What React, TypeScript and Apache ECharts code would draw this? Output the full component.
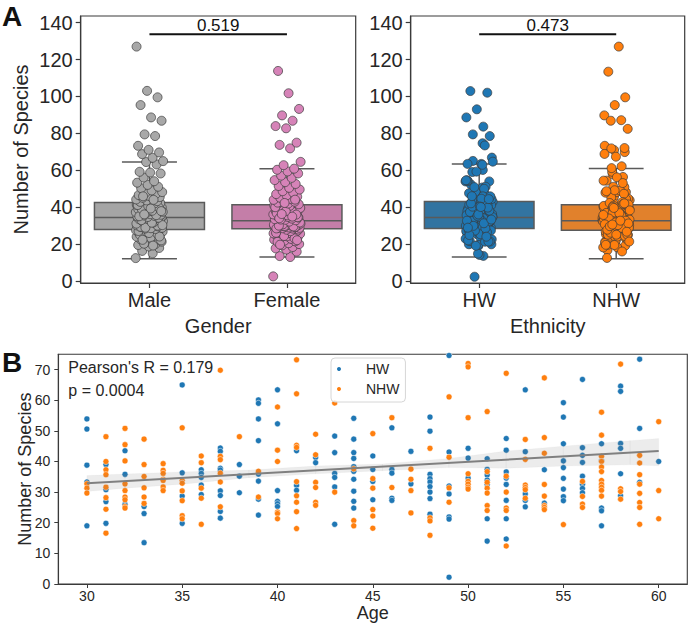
import React, { useEffect, useRef } from "react";
import * as echarts from "echarts";

// ---------- Panel A data ----------
const genderCats = ["Male", "Female"];
const ethnicityCats = ["HW", "NHW"];

// box statistics: [lower whisker, Q1, median, Q3, upper whisker]
const maleBox = [12.0, 27.8, 34.3, 42.5, 64.4];
const femaleBox = [12.9, 28.2, 32.6, 41.2, 60.8];
const hwBox = [12.9, 28.3, 34.3, 43.0, 63.3];
const nhwBox = [12.0, 27.4, 32.6, 41.2, 60.9];

const maleValues = [
  12.3, 14.9, 16.2, 17.8, 18.6, 19.4, 19.8, 20.5, 21.2, 21.6, 22.4, 22.8, 23.1, 23.9, 24.2, 24.6, 25.1, 25.3, 25.8, 26.0,
  26.3, 26.7, 26.9, 27.1, 27.3, 27.6, 27.8, 27.9, 20.1, 21.9, 23.4, 24.8, 25.6, 26.5, 27.4, 19.1, 22.2, 24.0, 25.9, 27.0,
  28.1, 28.3, 28.7, 28.9, 29.1, 29.5, 29.8, 30.0, 30.3, 30.5, 30.9, 31.2, 31.4, 31.7, 31.9, 32.3, 32.5, 32.8, 33.1, 33.3,
  33.6, 33.9, 34.1, 34.3, 28.5, 29.3, 29.9, 30.7, 31.0, 31.6, 32.0, 32.6, 33.0, 33.5, 34.0, 28.8, 30.2, 31.5, 32.9, 34.2,
  34.6, 34.9, 35.2, 35.4, 35.8, 36.1, 36.3, 36.7, 37.0, 37.2, 37.6, 37.9, 38.2, 38.5, 38.8, 39.0, 39.4, 39.7, 40.0, 40.3,
  40.6, 40.9, 41.2, 41.5, 41.8, 42.1, 42.4, 35.0, 35.6, 36.5, 37.4, 38.0, 38.9, 39.8, 40.5, 41.1, 42.0, 36.0, 37.8, 39.2,
  42.8, 43.2, 43.6, 44.1, 44.5, 45.0, 45.4, 46.0, 46.5, 47.0, 47.5, 48.1, 49.0, 50.2, 51.0, 52.0, 53.2, 54.0, 56.0, 58.2,
  58.7, 59.1, 63.1, 64.4, 64.9, 66.7, 68.7, 69.6, 71.0, 73.2, 78.5, 79.4, 86.8, 88.6, 95.3, 99.5, 103.0, 127.0, 43.9, 45.8,
];
const femaleValues = [
  2.4, 12.9, 13.4, 15.8, 16.9, 17.6, 18.3, 19.2, 19.9, 20.4, 20.9, 21.4, 21.8, 22.3, 22.7, 23.2, 23.6, 24.1, 24.5, 24.8,
  25.2, 25.5, 25.9, 26.2, 26.5, 26.8, 27.0, 27.3, 27.5, 27.8, 28.0, 21.1, 23.0, 24.3, 25.7, 26.9, 19.6, 22.0, 27.7, 26.0,
  28.3, 28.5, 28.7, 28.9, 29.0, 29.2, 29.4, 29.6, 29.8, 30.0, 30.1, 30.3, 30.5, 30.7, 30.9, 31.0, 31.2, 31.4, 31.5, 31.7,
  31.9, 32.0, 32.2, 32.4, 32.5, 28.6, 29.1, 29.7, 30.4, 30.8, 31.3, 31.8, 32.3, 28.4, 29.5, 30.6, 31.6, 32.1, 29.9,
  32.8, 33.1, 33.4, 33.7, 34.0, 34.3, 34.6, 35.0, 35.3, 35.7, 36.0, 36.4, 36.8, 37.1, 37.5, 37.9, 38.2, 38.6, 39.0, 39.3,
  39.7, 40.0, 40.4, 40.8, 41.1, 33.2, 34.5, 35.5, 36.6, 37.3, 38.0, 39.5, 40.6, 33.9, 35.9, 37.7, 39.9, 34.8, 36.2,
  41.5, 41.9, 42.4, 42.9, 43.4, 43.9, 44.4, 45.0, 45.6, 46.3, 47.0, 47.8, 48.6, 49.5, 50.4, 51.4, 52.5, 53.5, 54.6, 55.8,
  57.0, 58.2, 59.3, 60.2, 60.8, 62.7, 64.5, 71.8, 73.7, 74.9, 82.7, 83.9, 86.8, 89.7, 93.2, 101.7, 113.8, 44.0, 42.2,
];

// values above the panel-B y limit (shown only in panel A)
const hwHigh = [102.9, 102.0, 93.0, 88.6, 83.6, 79.4, 78.5];
const nhwHigh = [127.0, 113.4, 99.5, 95.3, 89.7, 87.1, 86.8, 82.4];

const genderP = "0.519";
const ethnicityP = "0.473";
const sigBarLevel = 133.7;

// ---------- Panel B data ----------
const ages = [30, 31, 32, 33, 34, 35, 36, 37, 38, 39, 40, 41, 42, 43, 44, 45, 46, 47, 48, 49, 50, 51, 52, 53, 54, 55, 56, 57, 58, 59, 60];
const hwByAge = [
  [53.9, 50.6, 38.8, 33.3, 19.0],
  [39.0, 30.8, 26.9, 19.8],
  [43.5, 35.8, 26.0],
  [25.3, 23.0, 13.5],
  [],
  [65.0, 36.3, 28.7, 19.8],
  [37.3, 36.1, 34.8, 32.3, 29.2],
  [44.4, 43.3, 37.8, 37.2, 30.4, 28.9, 23.7, 21.5],
  [39.0, 35.2, 29.8],
  [60.1, 59.0, 53.9, 46.8, 35.9, 33.6, 27.7, 22.5],
  [63.4, 52.3, 30.5, 27.0, 26.2, 25.3],
  [43.5, 32.2, 30.6],
  [41.3, 39.6],
  [48.3, 42.9, 36.1, 34.8, 31.7, 19.5],
  [54.1, 47.3, 42.9, 41.0, 38.3, 36.8, 34.2, 30.3, 27.0, 24.8],
  [41.8, 37.4, 33.5, 27.5],
  [51.0, 37.4, 36.2, 28.0, 27.3],
  [43.3, 32.7],
  [54.5, 49.9, 35.8, 34.4, 33.3, 31.8, 30.0, 27.9, 22.8],
  [74.6, 43.1, 32.0, 29.4, 21.9, 21.2, 2.2],
  [44.3, 41.1, 34.6],
  [40.9, 37.4, 35.6, 33.9, 32.5, 21.3, 14.0],
  [47.5, 43.7, 36.6, 34.6, 32.5, 27.3, 21.3, 14.7],
  [63.4, 43.2, 29.4, 27.3, 25.2],
  [37.3, 26.4],
  [59.2, 54.5, 45.8, 40.2, 38.0, 34.5, 31.0, 28.5, 27.2],
  [66.8, 44.5, 42.0, 39.7, 35.2, 32.6, 31.2, 29.8],
  [45.8, 40.3, 24.8, 23.9, 19.0],
  [64.6, 62.9, 45.9, 44.3, 36.0, 28.8],
  [73.4, 50.8, 33.2],
  [40.0],
];
const nhwByAge = [
  [32.7, 31.3, 29.7],
  [48.1, 40.0, 37.3, 35.7, 31.6, 28.2, 24.4, 16.6],
  [50.8, 45.5, 40.2, 32.7, 30.5, 28.4, 27.5, 25.3, 24.8],
  [47.3, 39.0, 35.1, 31.4, 28.4, 26.3],
  [39.3, 37.1, 36.1, 34.2, 33.8, 31.7, 30.5],
  [51.0, 33.8, 32.9, 30.4, 27.2, 22.3, 21.3],
  [41.8, 39.6, 31.3, 28.0, 19.5],
  [69.8, 41.7, 40.6, 36.2, 33.3, 25.2],
  [48.1],
  [36.8, 28.4],
  [57.8, 43.7, 40.0, 23.5, 23.0, 21.3],
  [73.2, 62.1, 45.3, 44.6, 33.4, 28.8, 26.7, 23.6, 18.1],
  [48.9, 42.2, 33.2, 31.5, 26.7, 25.7],
  [59.1, 30.0],
  [37.6, 20.7, 19.0],
  [49.1, 34.4, 31.3, 24.3, 22.2, 18.2],
  [54.3, 31.5],
  [37.5, 34.2, 30.5, 23.2],
  [44.3, 21.6, 20.6, 15.9],
  [61.1, 41.4, 31.4, 26.7],
  [72.0, 70.9, 54.3, 36.0, 33.5, 32.6, 31.6, 31.0],
  [56.3, 36.7, 33.2, 31.3, 29.7, 25.6, 24.0],
  [68.8, 35.2, 30.0, 24.8, 24.0, 12.4],
  [47.2, 40.7, 32.3, 31.5, 30.8, 28.0],
  [67.3, 47.8, 42.7, 32.5, 28.7, 25.6, 25.0, 24.3],
  [19.4],
  [33.5, 28.6, 26.1, 25.0],
  [56.1, 48.6, 41.7, 40.0, 38.2, 36.7, 33.8, 32.6, 31.6, 30.6, 28.7],
  [71.8, 31.1, 30.2, 27.7],
  [42.0, 39.5, 35.7, 32.6, 29.6, 26.6, 25.0, 19.5],
  [53.0, 30.5, 21.3],
];

// regression line and its confidence band
const fitAges = [30, 60];
const fitValues = [32.9, 43.4];
const ciAges = [30, 32, 35, 38.5, 42, 45.5, 49, 52, 55, 58.5, 60];
const ciLow = [30.2, 31.3, 32.6, 34.7, 36.0, 37.0, 38.0, 37.8, 38.5, 38.9, 38.6];
const ciHigh = [35.4, 35.9, 36.6, 37.2, 38.5, 39.2, 41.0, 43.4, 45.0, 46.8, 47.5];

const pearsonText = "Pearson's R = 0.179";
const pText = "p = 0.0004";

// ---------- helpers ----------
const FONT = "Liberation Sans, Arial, sans-serif";
const INK = "#262626";
const SPINE = "#3a3a3a";
const EDGE = "#5a5a5a";

const hwColor = "#1f77b4";
const nhwColor = "#ff7f0e";

// strip-plot horizontal jitter (presentation only)
const jitter = (i: number) => (((i * 0.6180339887) % 1) - 0.5) * 0.2;
const strip = (vals: number[], cat: number) => vals.map((v, i) => [cat + jitter(i), v]);

const flatByAge = (groups: number[][]) => {
  const out: number[][] = [];
  groups.forEach((g, i) => g.forEach((v) => out.push([ages[i], v])));
  return out;
};
const flatValues = (groups: number[][]) => groups.reduce((a, g) => a.concat(g), [] as number[]);

const boxRender = (colors: string[]) => (params: any, api: any) => {
  const x = api.value(0);
  const lo = api.coord([x, api.value(1)]);
  const q1 = api.coord([x, api.value(2)]);
  const med = api.coord([x, api.value(3)]);
  const q3 = api.coord([x, api.value(4)]);
  const hi = api.coord([x, api.value(5)]);
  const bw = api.size([0.8, 0])[0];
  const cx = lo[0];
  const ls = { stroke: EDGE, lineWidth: 1.5 };
  return {
    type: "group",
    children: [
      { type: "line", shape: { x1: cx, y1: lo[1], x2: cx, y2: q1[1] }, style: ls },
      { type: "line", shape: { x1: cx, y1: q3[1], x2: cx, y2: hi[1] }, style: ls },
      { type: "line", shape: { x1: cx - bw / 4, y1: lo[1], x2: cx + bw / 4, y2: lo[1] }, style: ls },
      { type: "line", shape: { x1: cx - bw / 4, y1: hi[1], x2: cx + bw / 4, y2: hi[1] }, style: ls },
      {
        type: "rect",
        shape: { x: cx - bw / 2, y: q3[1], width: bw, height: q1[1] - q3[1] },
        style: { fill: colors[params.dataIndex], stroke: EDGE, lineWidth: 1.5 },
      },
      { type: "line", shape: { x1: cx - bw / 2, y1: med[1], x2: cx + bw / 2, y2: med[1] }, style: ls },
    ],
  };
};

// confidence band: one quad per consecutive pair of band points
const bandRender = (params: any, api: any) => {
  const i = params.dataIndex;
  if (i >= ciAges.length - 1) return null;
  const a0 = api.coord([ciAges[i], ciLow[i]]);
  const b0 = api.coord([ciAges[i], ciHigh[i]]);
  const a1 = api.coord([ciAges[i + 1], ciLow[i + 1]]);
  const b1 = api.coord([ciAges[i + 1], ciHigh[i + 1]]);
  return {
    type: "polygon",
    shape: { points: [a0, a1, b1, b0] },
    style: { fill: "rgba(128,128,128,0.15)", stroke: "rgba(128,128,128,0.15)", lineWidth: 0.3 },
  };
};

const aTicks = [0, 20, 40, 60, 80, 100, 120, 140];
const bYTicks = [0, 10, 20, 30, 40, 50, 60, 70];
const bXTicks = [30, 35, 40, 45, 50, 55, 60];

const catXAxis = (grid: number, cats: string[], name: string) => ({
  gridIndex: grid,
  type: "value",
  min: -0.5,
  max: 1.5,
  name,
  nameLocation: "middle",
  nameGap: 33,
  nameMoveOverlap: false,
  nameTextStyle: { fontSize: 20, color: INK, fontFamily: FONT },
  axisLine: { show: true, onZero: false, lineStyle: { color: SPINE, width: 1.2 } },
  axisTick: { show: true, customValues: [0, 1], length: 5, lineStyle: { color: SPINE, width: 1.2 } },
  axisLabel: {
    customValues: [0, 1],
    formatter: (v: number) => cats[Math.round(v)],
    fontSize: 20,
    color: INK,
    margin: 7,
    fontFamily: FONT,
  },
  splitLine: { show: false },
});

const aYAxis = (grid: number, name: string) => ({
  gridIndex: grid,
  type: "value",
  min: -1.2,
  max: 143.6,
  name,
  nameLocation: "middle",
  nameGap: 50,
  nameMoveOverlap: false,
  nameTextStyle: { fontSize: 20, color: INK, fontFamily: FONT },
  axisLine: { show: true, onZero: false, lineStyle: { color: SPINE, width: 1.2 } },
  axisTick: { show: true, customValues: aTicks, length: 5, lineStyle: { color: SPINE, width: 1.2 } },
  axisLabel: { customValues: aTicks, fontSize: 20, color: INK, margin: 8, fontFamily: FONT },
  splitLine: { show: false },
});

const stripSeries = (name: string, grid: number, data: number[][], color: string) => ({
  name,
  type: "scatter",
  xAxisIndex: grid,
  yAxisIndex: grid,
  data,
  symbolSize: 9,
  itemStyle: { color, borderColor: "#3a3a3a", borderWidth: 0.7, opacity: 1 },
  z: 3,
});

const sigSeries = (grid: number, text: string) => [
  {
    type: "line",
    xAxisIndex: grid,
    yAxisIndex: grid,
    data: [
      [0, sigBarLevel],
      [1, sigBarLevel],
    ],
    symbol: "none",
    lineStyle: { color: "#111111", width: 2, opacity: 1 },
    z: 4,
  },
  {
    type: "scatter",
    xAxisIndex: grid,
    yAxisIndex: grid,
    data: [[0.5, sigBarLevel]],
    symbolSize: 0,
    itemStyle: { opacity: 1 },
    label: {
      show: true,
      formatter: text,
      position: "top",
      distance: 0,
      fontSize: 17,
      color: "#111111",
      fontFamily: FONT,
    },
    z: 4,
  },
];

export default function App() {
  const ref = useRef<HTMLDivElement>(null);

  useEffect(() => {
    if (!ref.current) return;
    const chart = echarts.init(ref.current, undefined, { renderer: "svg" });

    const hwAll = flatValues(hwByAge).concat(hwHigh);
    const nhwAll = flatValues(nhwByAge).concat(nhwHigh);

    const option: any = {
      animation: false,
      backgroundColor: "#ffffff",
      textStyle: { fontFamily: FONT, color: INK },
      grid: [
        { left: 80.7, top: 16, width: 275, height: 267, show: true, borderColor: SPINE, borderWidth: 1.2 },
        { left: 410.7, top: 16, width: 274, height: 267, show: true, borderColor: SPINE, borderWidth: 1.2 },
        { left: 58.3, top: 354.3, width: 629, height: 229.7, show: true, borderColor: SPINE, borderWidth: 1.1 },
      ],
      xAxis: [
        catXAxis(0, genderCats, "Gender"),
        catXAxis(1, ethnicityCats, "Ethnicity"),
        {
          gridIndex: 2,
          type: "value",
          min: 28.5,
          max: 61.5,
          name: "Age",
          nameLocation: "middle",
          nameGap: 20,
          nameMoveOverlap: false,
          nameTextStyle: { fontSize: 18, color: INK, fontFamily: FONT },
          axisLine: { show: true, onZero: false, lineStyle: { color: SPINE, width: 1.1 } },
          axisTick: { show: true, customValues: bXTicks, length: 4, lineStyle: { color: SPINE } },
          axisLabel: { customValues: bXTicks, fontSize: 14, color: INK, margin: 5, fontFamily: FONT },
          splitLine: { show: false },
        },
      ],
      yAxis: [
        aYAxis(0, "Number of Species"),
        aYAxis(1, ""),
        {
          gridIndex: 2,
          type: "value",
          min: 0,
          max: 75,
          name: "Number of Species",
          nameLocation: "middle",
          nameGap: 24,
          nameMoveOverlap: false,
          nameTextStyle: { fontSize: 18, color: INK, fontFamily: FONT },
          axisLine: { show: true, onZero: false, lineStyle: { color: SPINE, width: 1.1 } },
          axisTick: { show: true, customValues: bYTicks, length: 4, lineStyle: { color: SPINE } },
          axisLabel: { customValues: bYTicks, fontSize: 14, color: INK, margin: 8, fontFamily: FONT },
          splitLine: { show: false },
        },
      ],
      legend: {
        data: ["HW", "NHW"],
        orient: "vertical",
        left: 331,
        top: 358,
        padding: [3, 6, 5, 4],
        itemGap: 4,
        itemWidth: 30,
        itemHeight: 6,
        icon: "circle",
        borderColor: "#d6d6d6",
        borderWidth: 1,
        borderRadius: 4,
        backgroundColor: "rgba(255,255,255,0.8)",
        textStyle: { fontSize: 14, lineHeight: 16, padding: [0, 0, 0, 7], color: INK, fontFamily: FONT },
      },
      graphic: [
        { type: "text", x: 2, y: 16, style: { text: "A", font: `bold 28px ${FONT}`, fill: "#111", verticalAlign: "middle" } },
        { type: "text", x: 2, y: 362, style: { text: "B", font: `bold 28px ${FONT}`, fill: "#111", verticalAlign: "middle" } },
        { type: "text", x: 68.3, y: 367.5, z: 10, style: { text: pearsonText, font: `16px ${FONT}`, fill: INK, verticalAlign: "middle" } },
        { type: "text", x: 68.3, y: 390, z: 10, style: { text: pText, font: `16px ${FONT}`, fill: INK, verticalAlign: "middle" } },
      ],
      series: [
        {
          type: "custom",
          xAxisIndex: 0,
          yAxisIndex: 0,
          data: [
            [0, ...maleBox],
            [1, ...femaleBox],
          ],
          encode: { x: 0, y: [1, 2, 3, 4, 5] },
          renderItem: boxRender(["#a5a5a5", "#c47ea8"]),
          z: 2,
        },
        {
          type: "custom",
          xAxisIndex: 1,
          yAxisIndex: 1,
          data: [
            [0, ...hwBox],
            [1, ...nhwBox],
          ],
          encode: { x: 0, y: [1, 2, 3, 4, 5] },
          renderItem: boxRender(["#3274a1", "#e1812c"]),
          z: 2,
        },
        stripSeries("Male", 0, strip(maleValues, 0), "#a8a8a8"),
        stripSeries("Female", 0, strip(femaleValues, 1), "#d683b8"),
        stripSeries("HW (A)", 1, strip(hwAll, 0), hwColor),
        stripSeries("NHW (A)", 1, strip(nhwAll, 1), nhwColor),
        ...sigSeries(0, genderP),
        ...sigSeries(1, ethnicityP),
        {
          name: "HW",
          type: "scatter",
          xAxisIndex: 2,
          yAxisIndex: 2,
          data: flatByAge(hwByAge),
          symbolSize: 6,
          itemStyle: { color: hwColor, borderColor: "#ffffff", borderWidth: 0.5, opacity: 1 },
          z: 2,
        },
        {
          name: "NHW",
          type: "scatter",
          xAxisIndex: 2,
          yAxisIndex: 2,
          data: flatByAge(nhwByAge),
          symbolSize: 6,
          itemStyle: { color: nhwColor, borderColor: "#ffffff", borderWidth: 0.5, opacity: 1 },
          z: 2,
        },
        {
          type: "custom",
          xAxisIndex: 2,
          yAxisIndex: 2,
          data: ciAges.map((a, i) => [a, ciLow[i], ciHigh[i]]),
          encode: { x: 0, y: [1, 2] },
          renderItem: bandRender,
          z: 3,
        },
        {
          type: "line",
          xAxisIndex: 2,
          yAxisIndex: 2,
          data: fitAges.map((a, i) => [a, fitValues[i]]),
          symbol: "none",
          lineStyle: { color: "#808080", width: 2 },
          z: 4,
        },
      ],
    };

    chart.setOption(option);
    return () => chart.dispose();
  }, []);

  return <div ref={ref} style={{ position: "fixed", left: 0, top: 0, width: 688, height: 624 }} />;
}
